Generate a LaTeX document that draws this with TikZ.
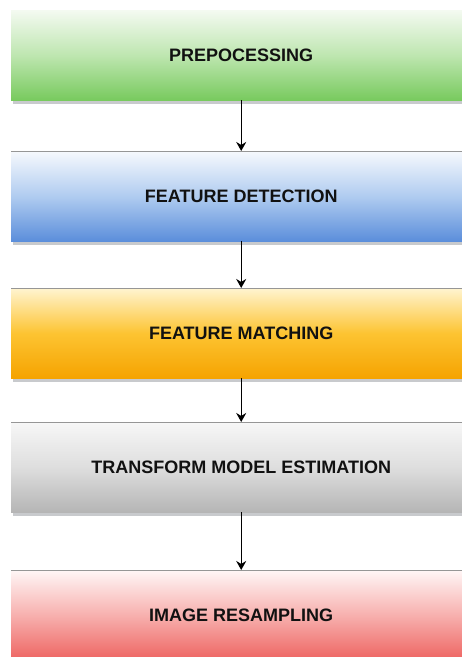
\documentclass[tikz,border=0pt]{standalone}
\usepackage{fontspec}
\setmainfont{Liberation Sans}
\usepackage{xcolor}
\usepackage{tikz}
\usetikzlibrary{arrows.meta,positioning,shadows}
\definecolor{figInk}{RGB}{17,17,17}
\definecolor{figEdge}{RGB}{150,150,150}
\definecolor{figShade}{RGB}{200,202,205}
\definecolor{figGreenTop}{RGB}{244,250,241}
\definecolor{figGreenMid}{RGB}{190,230,176}
\definecolor{figGreen}{RGB}{120,202,94}
\definecolor{figBlueTop}{RGB}{246,249,253}
\definecolor{figBlueMid}{RGB}{176,204,240}
\definecolor{figBlue}{RGB}{91,142,219}
\definecolor{figOrangeTop}{RGB}{255,244,208}
\definecolor{figOrangeMid}{RGB}{253,196,50}
\definecolor{figOrange}{RGB}{245,163,0}
\definecolor{figGrayTop}{RGB}{247,247,247}
\definecolor{figGrayMid}{RGB}{222,222,222}
\definecolor{figGray}{RGB}{181,181,181}
\definecolor{figRedTop}{RGB}{255,246,246}
\definecolor{figRedMid}{RGB}{247,176,174}
\definecolor{figRed}{RGB}{238,100,97}
\tikzset{
  stagebox/.style={minimum width=460pt,minimum height=90pt,inner sep=0pt,anchor=north west,
    font=\bfseries\fontsize{18}{21}\selectfont,text=figInk,
    drop shadow={shadow xshift=2pt,shadow yshift=-4pt,fill=figShade,opacity=1}},
  stageedge/.style={draw=figEdge,line width=1pt},
  stageflow/.style={-{Stealth[length=9pt,width=10pt]},draw=black,line width=1.2pt},
}

\begin{document}
\begin{tikzpicture}[x=1pt,y=-1pt]
  \useasboundingbox (0,0) rectangle (462,657);
  \clip (0,0) rectangle (462,657);

  % The five stages of the registration pipeline.
  \node[stagebox,top color=figGreenTop,bottom color=figGreen,middle color=figGreenMid]
    (prep) at (11,10) {PREPOCESSING};
  \node[stagebox,top color=figBlueTop,bottom color=figBlue,middle color=figBlueMid]
    (detect) at (11,151) {FEATURE DETECTION};
  \node[stagebox,top color=figOrangeTop,bottom color=figOrange,middle color=figOrangeMid]
    (match) at (11,288) {FEATURE MATCHING};
  \node[stagebox,top color=figGrayTop,bottom color=figGray,middle color=figGrayMid]
    (trans) at (11,422) {TRANSFORM MODEL ESTIMATION};
  \node[stagebox,top color=figRedTop,bottom color=figRed,middle color=figRedMid]
    (resamp) at (11,570) {IMAGE RESAMPLING};

  % Thin top edges.
  \foreach \b in {detect,match,trans,resamp}
    \draw[stageedge] (\b.north west) -- (\b.north east);

  % Flow between stages.
  \draw[stageflow] (prep) -- (detect);
  \draw[stageflow] (detect) -- (match);
  \draw[stageflow] (match) -- (trans);
  \draw[stageflow] (trans) -- (resamp);
\end{tikzpicture}
\end{document}
